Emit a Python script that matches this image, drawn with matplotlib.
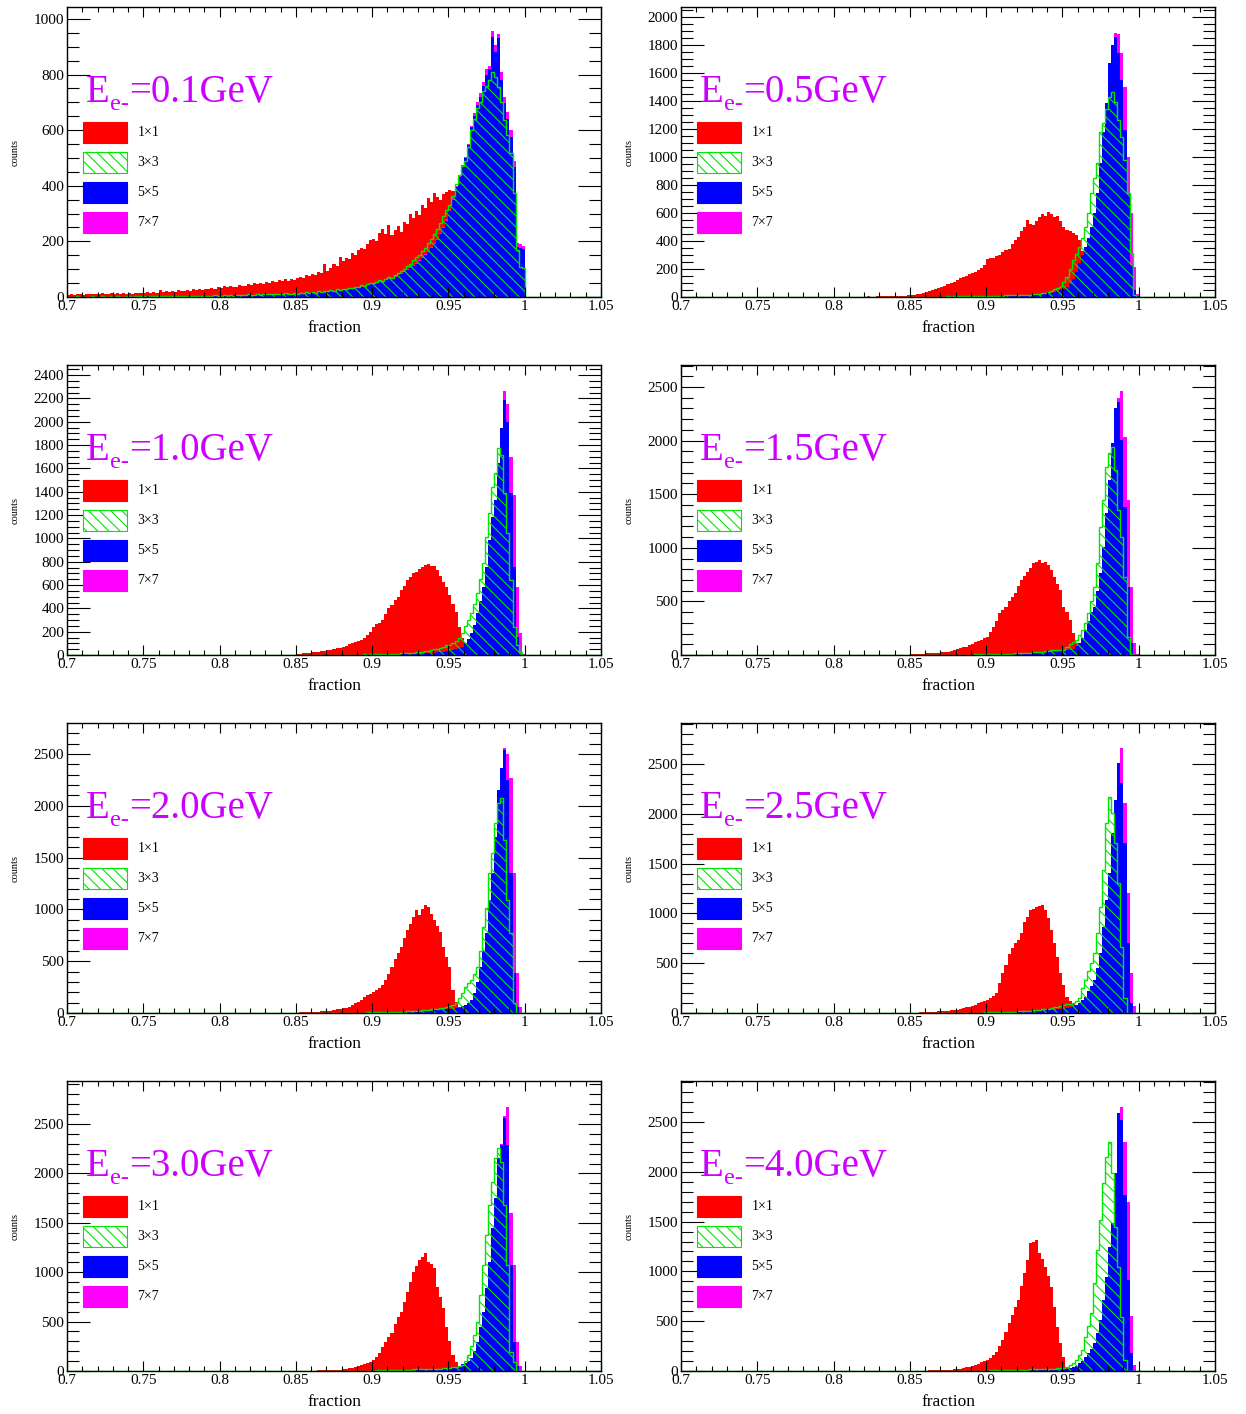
import numpy as np
import matplotlib
matplotlib.use("Agg")
import matplotlib.pyplot as plt
from matplotlib.patches import Rectangle
from matplotlib.ticker import MultipleLocator, FuncFormatter

plt.rcParams['font.family'] = ['Liberation Serif', 'DejaVu Serif']
plt.rcParams['hatch.linewidth'] = 0.8

# ---------------------------------------------------------------------------
# Energy-fraction histograms (bin width 0.002) for cluster sizes 1x1 .. 7x7
# ---------------------------------------------------------------------------

# E = 0.1 GeV, bins from 0.700
e01_1x1 = [8,10,7,9,11,8,10,12,9,11,10,13,9,12,14,11,13,10,15,12,14,11,16,13,15,
           14,17,15,19,16,24,18,20,17,22,19,25,21,23,26,22,28,24,27,25,30,27,33,29,36,
           34,38,35,40,37,36,44,41,39,47,43,50,45,52,48,55,50,58,53,60,56,63,59,66,62,
           68,72,70,78,75,83,80,90,86,118,95,105,120,112,145,128,140,135,160,150,168,175,172,190,205,
           210,200,230,245,225,260,222,240,255,235,270,262,300,285,310,295,330,320,355,340,375,360,350,372,378,
           385,380,395,390,385,380,375,370,360,340,320,300,270,240,210,180,150,120,90,70,50,30,15,8,3]
e01_3x3 = [1,0,1,2,1,0,1,1,2,1,0,2,1,1,2,1,2,1,1,2,2,1,2,3,2,
           2,1,3,2,2,3,2,4,3,2,3,4,3,3,5,3,4,4,5,4,3,5,4,6,5,
           5,6,4,7,5,6,8,6,7,9,7,8,10,8,9,11,9,10,12,10,11,13,11,12,14,
           12,15,13,17,14,18,16,20,18,22,20,25,22,27,25,30,28,34,31,37,35,42,40,46,50,
           50,55,60,58,66,72,70,80,86,92,100,110,120,132,145,152,165,178,195,210,225,245,265,290,313,
           330,365,405,440,470,490,540,600,640,680,700,740,760,780,810,790,756,700,637,583,518,374,169,109,105]
e01_5x5 = [0,1,0,0,1,0,1,0,1,1,0,1,1,0,1,1,1,0,1,1,2,1,1,2,1,
           1,2,1,2,2,1,2,3,2,2,3,2,3,3,2,3,4,3,3,4,3,4,4,5,4,
           4,5,4,5,6,5,6,7,5,7,6,8,7,8,9,8,9,10,9,11,10,12,11,12,13,
           11,14,12,15,13,16,15,18,16,20,18,22,20,24,23,27,25,30,28,33,31,37,36,42,45,
           45,50,54,52,60,65,63,72,78,82,90,96,105,112,120,130,140,150,162,175,190,205,225,248,275,
           310,350,395,430,470,500,545,610,650,690,720,760,800,820,936,882,931,780,697,640,577,469,181,176,172]
e01_7x7 = [0,0,1,0,1,1,0,1,0,1,1,0,1,1,1,0,1,2,1,1,1,2,1,1,2,
           2,1,2,2,1,3,2,2,3,2,2,3,3,2,4,3,3,4,4,3,5,4,4,5,5,
           5,4,6,5,5,7,6,6,8,6,7,8,8,9,8,10,9,10,11,10,12,11,13,12,14,
           12,15,13,16,15,17,16,19,18,21,20,23,22,25,24,28,27,31,30,35,33,39,38,44,47,
           47,52,56,55,62,67,66,75,80,85,93,99,108,115,124,133,143,154,166,180,195,210,230,252,280,
           315,355,400,435,475,505,550,615,660,700,735,775,820,830,955,905,945,810,720,665,600,490,195,190,185]

# E = 0.5 GeV, bins from 0.800
e05_1x1 = [1,0,2,1,1,3,2,2,1,3,2,4,3,3,5,4,6,5,7,8,7,9,10,9,12,
           14,16,20,24,30,34,42,48,58,62,70,80,92,98,110,122,133,140,150,165,170,182,195,205,230,
           270,280,275,290,300,320,336,345,380,407,430,470,500,550,520,514,540,574,590,580,609,595,574,580,540,
           500,480,470,455,440,407,330,250,150,70,25,8,3,1,0,0,0,0,0,0,0,0,0,0,0]
e05_3x3 = [0,0,0,1,0,0,1,0,0,1,0,1,0,1,1,0,1,1,0,1,1,2,1,1,2,
           1,2,2,1,2,3,2,2,3,3,2,3,4,3,4,4,5,4,5,6,5,6,7,6,8,
           7,8,9,8,10,9,11,12,11,13,12,14,15,14,17,18,20,22,25,30,38,45,55,65,74,
           110,145,200,264,310,359,420,502,600,740,850,955,1180,1240,1340,1431,1467,1395,1264,1145,979,740,312,15,0]
e05_5x5 = [0,0,0,0,1,0,0,0,1,0,0,1,0,0,1,0,1,0,1,1,0,1,1,1,1,
           1,1,2,1,2,1,2,2,2,3,2,3,2,3,3,4,3,4,4,5,4,5,5,6,6,
           6,7,6,8,7,8,9,9,10,10,11,12,12,13,14,15,16,18,20,22,26,30,38,45,50,
           55,70,95,130,180,240,300,359,420,500,600,740,955,1180,1386,1669,1800,1860,1740,1550,1193,740,229,50,5]
e05_7x7 = [0,0,0,1,0,0,0,1,0,0,1,0,0,1,0,1,0,1,1,0,1,1,1,1,2,
           1,2,1,2,2,2,2,3,2,3,3,3,3,4,3,4,4,5,4,5,5,5,6,6,6,
           7,6,8,7,8,9,9,10,10,11,11,12,13,13,14,15,17,19,21,23,27,31,37,43,48,
           52,66,90,125,170,230,290,345,410,490,590,730,940,1160,1370,1600,1750,1888,1880,1740,1502,1000,600,214,20]

# E = 1.0 GeV, bins from 0.850
e10_1x1 = [10,12,14,18,20,22,27,30,33,38,43,46,52,58,62,71,80,92,100,110,118,130,143,170,200,
           243,262,271,300,350,400,430,471,500,557,590,643,665,700,714,740,757,770,780,766,760,729,680,629,580,
           514,440,371,243,150,100,50,25,10,5,3,2,1,0,0,0,0,0,0,0,0,0,0,0,0]
e10_3x3 = [0,1,0,1,1,0,1,1,2,1,1,2,2,1,2,3,2,3,3,4,3,4,5,4,6,
           5,6,7,7,8,9,10,11,12,13,14,16,18,20,22,25,28,32,36,42,48,55,62,70,82,
           90,100,120,150,186,250,300,357,440,529,650,786,1014,1214,1443,1557,1771,1714,1386,1043,643,243,90,29,0]
e10_5x5 = [0,0,1,0,0,1,0,1,0,1,1,0,1,1,1,2,1,1,2,2,1,2,2,3,2,
           3,3,4,3,4,4,5,5,6,6,7,7,8,9,10,11,12,13,15,17,19,22,25,28,32,
           36,42,50,58,71,100,140,186,260,357,460,586,757,986,1186,1329,1646,1946,2186,2000,1386,757,157,10,0]
e10_7x7 = [0,1,0,0,1,0,1,0,1,0,1,1,1,1,2,1,2,1,2,2,2,2,3,2,3,
           3,4,3,4,5,4,5,6,6,7,7,8,9,9,10,12,12,14,15,17,19,21,24,27,30,
           34,40,47,55,66,90,130,175,240,330,430,550,710,930,1120,1280,1590,1890,2266,2150,1700,1371,586,186,10]

# E = 1.5 GeV, bins from 0.850
e15_1x1 = [6,8,9,11,12,14,15,17,19,22,24,28,31,36,45,52,62,70,78,92,105,118,130,140,155,
           171,210,264,320,389,420,451,500,540,575,640,700,740,777,810,855,870,886,860,870,840,790,730,660,606,
           451,400,326,202,109,60,30,15,8,4,2,1,0,0,0,0,0,0,0,0,0,0,0,0,0]
e15_3x3 = [0,0,1,0,1,0,1,1,1,2,1,2,2,2,3,2,3,3,4,4,4,5,5,6,6,
           7,7,8,9,9,10,11,12,13,14,15,17,18,20,22,24,26,29,32,35,38,42,44,46,47,
           50,70,100,120,140,190,233,300,389,500,637,855,1197,1446,1757,1880,1943,1726,1353,1104,730,171,10,0,0]
e15_5x5 = [0,0,0,1,0,0,1,0,1,1,1,1,1,2,1,2,2,2,3,2,3,3,4,4,5,
           5,6,6,7,8,8,9,10,11,12,13,14,15,16,18,19,21,23,25,27,29,32,35,38,41,
           42,45,47,60,80,109,160,233,320,400,451,600,762,1011,1321,1632,1975,2301,2363,2006,1384,637,109,0,0]
e15_7x7 = [0,0,0,0,1,0,0,1,0,1,1,1,1,1,2,1,2,2,2,3,2,3,3,4,4,
           5,5,6,6,7,8,8,9,10,11,12,13,14,15,17,18,20,22,24,26,28,31,34,37,40,
           40,43,46,50,65,85,115,170,240,330,420,540,700,950,1250,1560,1900,2250,2400,2466,2037,1446,637,109,5]

# E = 2.0 GeV, bins from 0.850
e20_1x1 = [4,5,6,8,9,10,11,13,15,18,20,24,28,35,40,45,52,60,77,95,110,130,157,170,185,
           206,225,238,270,318,380,447,520,580,640,720,801,860,930,994,946,1000,1042,1026,960,898,840,785,640,540,
           447,222,109,61,30,15,8,4,2,1,0,0,0,0,0,0,0,0,0,0,0,0,0,0,0]
e20_3x3 = [0,0,1,0,0,1,1,0,1,1,1,2,1,2,2,2,3,2,3,3,4,4,4,5,5,
           6,6,7,8,8,9,10,11,12,13,14,15,17,19,21,23,25,28,31,34,38,42,47,52,58,
           65,80,94,140,190,250,290,318,380,447,600,833,1010,1348,1541,1831,2024,2072,1670,1091,769,94,0,0,0]
e20_5x5 = [0,0,0,1,0,0,0,1,0,1,0,1,1,1,1,1,2,1,2,2,2,2,3,3,3,
           4,4,5,5,6,6,7,8,8,9,10,11,12,13,14,16,17,19,21,23,25,28,31,34,36,
           38,40,44,47,70,80,94,130,190,300,447,600,769,1091,1348,1702,2152,2362,2539,2249,1348,383,61,0,0]
e20_7x7 = [0,0,1,0,0,0,1,0,1,0,1,1,1,1,2,1,1,2,2,2,2,3,2,3,3,
           4,5,4,5,6,7,7,8,9,9,10,11,12,14,15,16,18,20,22,24,26,28,31,33,35,
           36,39,42,46,62,76,90,125,180,285,430,580,740,1050,1300,1640,2080,2300,2555,2500,2265,1348,383,61,0]

# E = 2.5 GeV, bins from 0.850
e25_1x1 = [3,4,5,6,7,8,10,12,14,17,20,22,25,28,30,35,42,50,57,63,72,85,100,110,120,
           130,150,170,198,300,397,480,596,650,700,729,800,913,960,1034,1040,1064,1070,1084,1034,950,833,700,565,398,
           280,164,120,97,50,25,12,6,3,2,1,0,0,0,0,0,0,0,0,0,0,0,0,0,0]
e25_3x3 = [0,0,0,1,0,1,0,1,1,1,1,1,2,2,2,2,3,3,3,4,4,4,5,5,6,
           6,7,8,8,9,10,11,12,13,15,16,18,20,22,24,27,30,33,36,40,44,50,56,62,70,
           78,88,95,97,120,147,250,331,420,500,600,800,1067,1436,1904,2172,2005,1704,1302,666,150,0,0,0,0]
e25_5x5 = [0,0,0,0,1,0,1,0,1,1,1,1,1,1,2,2,2,2,3,3,3,4,4,4,5,
           5,6,6,7,8,8,9,10,11,12,13,14,15,17,18,20,22,24,26,28,30,32,34,36,38,
           40,50,60,75,85,97,130,164,220,270,331,450,600,867,1135,1402,1804,2138,2507,2306,1704,700,100,5,0]
e25_7x7 = [0,0,0,1,0,1,0,1,0,1,1,1,1,2,1,2,2,3,2,3,3,4,3,4,5,
           5,5,6,7,7,8,9,10,11,12,13,14,16,17,19,20,22,24,26,28,30,32,34,36,37,
           38,48,58,72,82,93,125,158,210,260,320,430,580,830,1090,1350,1740,2080,2450,2658,2105,1205,400,67,0]

# E = 3.0 GeV, bins from 0.850
e30_1x1 = [2,2,3,3,4,5,5,6,7,8,9,10,12,10,14,18,22,28,34,42,52,62,75,85,94,
           110,140,179,240,297,340,381,480,550,600,700,803,900,1005,1060,1124,1150,1191,1106,1080,1039,853,750,634,450,
           300,162,94,44,22,10,5,3,1,1,0,0,0,0,0,0,0,0,0,0,0,0,0,0,0]
e30_3x3 = [0,0,0,1,0,0,1,0,1,1,0,1,1,1,2,1,2,2,2,3,3,3,4,4,5,
           5,6,6,7,8,8,9,10,11,12,13,14,15,16,17,18,19,20,21,22,23,24,25,27,28,
           30,38,45,52,61,100,162,250,364,499,769,1073,1377,1680,1916,2152,2254,2119,1680,1073,196,94,0,0,0]
e30_5x5 = [0,0,0,0,1,0,0,1,0,1,1,0,1,1,1,1,2,1,2,2,2,3,2,3,3,
           4,4,5,5,6,6,7,8,8,9,10,11,12,13,14,15,16,18,19,20,22,23,25,27,28,
           30,36,42,50,67,85,100,128,200,297,450,600,837,1106,1444,1748,2152,2287,2558,2287,1073,297,50,0,0]
e30_7x7 = [0,0,0,1,0,0,1,0,0,1,1,1,0,1,1,2,1,2,2,2,3,2,3,3,4,
           4,5,5,6,6,7,7,8,9,9,10,11,12,13,14,15,17,18,19,21,22,24,25,26,27,
           28,35,40,48,62,80,96,122,190,285,430,580,800,1060,1380,1680,2080,2300,2580,2675,1600,1073,297,50,0]

# E = 4.0 GeV, bins from 0.850
e40_1x1 = [2,3,3,4,5,5,6,7,8,9,10,11,12,14,17,20,24,30,36,43,52,62,75,88,100,
           110,130,160,194,250,311,390,479,560,640,713,850,981,1114,1282,1300,1315,1181,1120,1047,950,846,646,445,278,
           144,43,20,10,5,3,2,1,0,0,0,0,0,0,0,0,0,0,0,0,0,0,0,0,0]
e40_3x3 = [0,0,1,0,0,0,1,0,1,1,1,1,1,2,1,2,2,2,3,3,3,3,4,4,5,
           5,6,6,7,7,8,9,9,10,11,12,13,14,15,16,17,18,19,20,21,22,23,25,27,28,
           30,43,60,80,110,160,211,344,450,579,880,1215,1516,1884,2152,2302,1985,1449,1047,545,110,0,0,0,0]
e40_5x5 = [0,0,0,0,0,1,0,0,1,0,1,0,1,1,1,1,1,2,1,2,2,2,2,3,3,
           3,4,4,4,5,5,6,6,7,7,8,8,9,9,10,10,11,11,12,12,13,13,14,14,15,
           15,20,26,37,50,77,100,144,180,220,278,380,512,713,947,1248,1483,1985,2587,2520,1767,914,177,0,0]
e40_7x7 = [0,0,0,0,1,0,0,0,1,0,0,1,1,1,1,1,1,1,2,2,2,2,2,3,3,
           3,3,4,4,4,5,5,6,6,7,7,8,8,9,9,10,10,11,11,12,12,13,13,14,14,
           14,18,24,34,46,70,92,132,165,205,260,350,470,660,880,1160,1400,1850,2450,2654,2300,1700,550,60,0]

energies = ['0.1', '0.5', '1.0', '1.5', '2.0', '2.5', '3.0', '4.0']
first_edges = [0.700, 0.800, 0.850, 0.850, 0.850, 0.850, 0.850, 0.850]
counts_1x1 = [e01_1x1, e05_1x1, e10_1x1, e15_1x1, e20_1x1, e25_1x1, e30_1x1, e40_1x1]
counts_3x3 = [e01_3x3, e05_3x3, e10_3x3, e15_3x3, e20_3x3, e25_3x3, e30_3x3, e40_3x3]
counts_5x5 = [e01_5x5, e05_5x5, e10_5x5, e15_5x5, e20_5x5, e25_5x5, e30_5x5, e40_5x5]
counts_7x7 = [e01_7x7, e05_7x7, e10_7x7, e15_7x7, e20_7x7, e25_7x7, e30_7x7, e40_7x7]
legend_labels = ['1\u00d71', '3\u00d73', '5\u00d75', '7\u00d77']

# Axis ranges and tick spacing
y_tops = [1043, 2071, 2486, 2705, 2799, 2912, 2935, 2912]
y_major = [200, 200, 200, 500, 500, 500, 500, 500]
y_minor = [50, 50, 50, 100, 100, 100, 100, 100]

BIN_WIDTH = 0.002
X_LO, X_HI = 0.70, 1.05
n_bins = int(round((X_HI - X_LO) / BIN_WIDTH))
edges = X_LO + BIN_WIDTH * np.arange(n_bins + 1)


def full_hist(counts, first_edge):
    h = np.zeros(n_bins)
    i0 = int(round((first_edge - X_LO) / BIN_WIDTH))
    h[i0:i0 + len(counts)] = counts
    return h


RED = '#ff0000'
GREEN = '#00e600'
BLUE = '#0000ff'
MAGENTA = '#ff00ff'
TITLE_COLOR = '#cc00ff'

FIG_W, FIG_H = 1246, 1414
fig = plt.figure(figsize=(FIG_W / 100, FIG_H / 100), dpi=100)
renderer = fig.canvas.get_renderer()
col_left = [67, 681]
row_top = [7, 365, 723, 1081]
AX_W, AX_H = 534, 290

fmt = FuncFormatter(lambda v, p: '%g' % round(v, 4))


def energy_title(ax, energy):
    """Draw 'E' + subscript 'e-' + '=<energy>GeV' as three adjoining texts."""
    x0, y0 = 0.0356, 0.673
    t = ax.text(x0, y0, 'E', transform=ax.transAxes, ha='left', va='baseline',
                fontsize=28, color=TITLE_COLOR)
    x = x0 + t.get_window_extent(renderer).width / AX_W
    s = ax.text(x, y0 - 0.029, 'e-', transform=ax.transAxes, ha='left', va='baseline',
                fontsize=17.5, color=TITLE_COLOR)
    x += s.get_window_extent(renderer).width / AX_W
    ax.text(x, y0, '=' + energy + 'GeV', transform=ax.transAxes, ha='left',
            va='baseline', fontsize=28, color=TITLE_COLOR)


for k, energy in enumerate(energies):
    r, c = divmod(k, 2)
    rect = [col_left[c] / FIG_W, 1 - (row_top[r] + AX_H) / FIG_H, AX_W / FIG_W, AX_H / FIG_H]
    ax = fig.add_axes(rect)
    lo = first_edges[k]

    h1 = full_hist(counts_1x1[k], lo)
    h3 = full_hist(counts_3x3[k], lo)
    h5 = full_hist(counts_5x5[k], lo)
    h7 = full_hist(counts_7x7[k], lo)

    ax.stairs(h1, edges, fill=True, color=RED, linewidth=0)
    ax.stairs(h7, edges, fill=True, color=MAGENTA, linewidth=0)
    ax.stairs(h5, edges, fill=True, color=BLUE, linewidth=0)
    ax.stairs(h3, edges, fill=True, facecolor='none', edgecolor=GREEN,
              hatch='\\\\\\', linewidth=1.0)

    ax.set_xlim(X_LO, X_HI)
    ax.set_ylim(0, y_tops[k])
    ax.xaxis.set_major_locator(MultipleLocator(0.05))
    ax.xaxis.set_minor_locator(MultipleLocator(0.01))
    ax.xaxis.set_major_formatter(fmt)
    ax.yaxis.set_major_locator(MultipleLocator(y_major[k]))
    ax.yaxis.set_minor_locator(MultipleLocator(y_minor[k]))

    ax.tick_params(axis='x', which='major', direction='in', length=7.5, width=0.8,
                   top=True, bottom=True, labelsize=11, pad=2)
    ax.tick_params(axis='x', which='minor', direction='in', length=3.8, width=0.8,
                   top=True, bottom=True)
    ax.tick_params(axis='y', which='major', direction='in', length=16.5, width=0.8,
                   left=True, right=True, labelsize=11, pad=2)
    ax.tick_params(axis='y', which='minor', direction='in', length=8.5, width=0.8,
                   left=True, right=True)
    for sp in ax.spines.values():
        sp.set_linewidth(1.0)

    ax.text(0.5, -0.107, 'fraction', transform=ax.transAxes, ha='center', va='center',
            fontsize=12.5)
    ax.text(-0.097, 0.5, 'counts', transform=ax.transAxes, ha='center', va='center',
            rotation=90, fontsize=7.5)

    energy_title(ax, energy)

    # legend boxes
    box_x, box_w, box_h = 0.030, 0.0824, 0.0724
    centers = [0.5666, 0.4628, 0.3593, 0.2559]
    styles = [dict(facecolor=RED, edgecolor=RED),
              dict(facecolor='white', edgecolor=GREEN, hatch='\\\\\\'),
              dict(facecolor=BLUE, edgecolor=BLUE),
              dict(facecolor=MAGENTA, edgecolor=MAGENTA)]
    for cy, st, lab in zip(centers, styles, legend_labels):
        ax.add_patch(Rectangle((box_x, cy - box_h / 2), box_w, box_h,
                               transform=ax.transAxes, linewidth=0.8, zorder=5, **st))
        ax.text(0.1317, cy, lab, transform=ax.transAxes, ha='left', va='center',
                fontsize=10, zorder=5)

fig.savefig('out.png', dpi=100)
